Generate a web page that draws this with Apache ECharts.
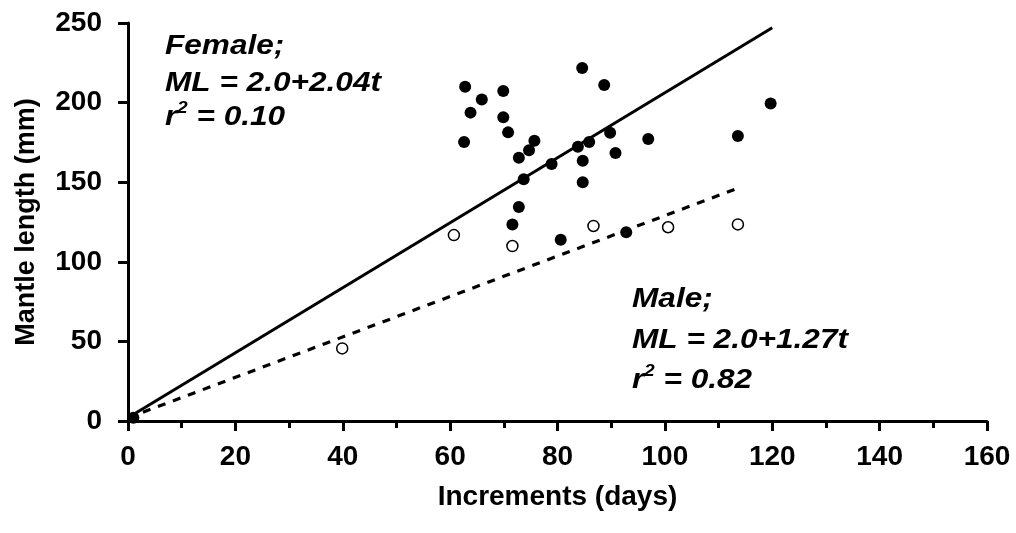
<!DOCTYPE html>
<html>
<head>
<meta charset="utf-8">
<script src="https://cdn.jsdelivr.net/npm/echarts@6/dist/echarts.min.js"></script>
<style>
html,body{margin:0;padding:0;background:#fff;}
#chart{width:1016px;height:533px;}
</style>
</head>
<body>
<div id="chart"></div>
<script>
// Female (filled circles): [increment days, mantle length mm]
const femalePoints = [
  [1, 2],
  [62.8, 210], [69.9, 207.3], [65.9, 202], [63.8, 193.7], [69.9, 190.8],
  [70.8, 181.3], [62.6, 175.2], [75.7, 176], [74.7, 170], [72.8, 165.4],
  [83.8, 172.3], [85.9, 175.2], [89.8, 181.1], [90.8, 168.3], [84.7, 163.5],
  [78.9, 161.4], [73.7, 151.8], [84.7, 149.9], [72.8, 134.4], [71.6, 123.5],
  [80.6, 113.9], [92.8, 118.5], [88.7, 211], [96.9, 177.1], [84.6, 221.7],
  [119.7, 199.5], [113.6, 179]
];
// Male (open circles)
const malePoints = [
  [39.9, 45.6], [60.7, 116.8], [71.6, 109.9], [86.7, 122.5],
  [100.6, 121.7], [113.6, 123.5]
];
// Regression lines (endpoints)
const femaleLine = [[0, 2], [120, 247]];
const maleLine = [[0, 2], [113, 145.5]];

const xTicks = [0, 20, 40, 60, 80, 100, 120, 140, 160];
const yTicks = [0, 50, 100, 150, 200, 250];

const femaleText = ['Female;', 'ML = 2.0+2.04t', '{b|r}{s|2}{b| = 0.10}'];
const maleText = ['Male;', 'ML = 2.0+1.27t', '{b|r}{s|2}{b| = 0.82}'];
const xName = 'Increments (days)';
const yName = 'Mantle length (mm)';

const FONT = '"Liberation Sans", Arial, sans-serif';
const chart = echarts.init(document.getElementById('chart'));

function annot(lines, x, ys) {
  return lines.map((t, i) => ({
    type: 'text',
    x: x, y: ys[i],
    scaleX: 1.17,
    style: {
      text: t,
      fontFamily: FONT, fontStyle: 'italic', fontWeight: 'bold', fontSize: 27,
      fill: '#000',
      verticalAlign: 'middle',
      align: 'left',
      rich: {
        b: { fontFamily: FONT, fontStyle: 'italic', fontWeight: 'bold', fontSize: 27, fill: '#000' },
        s: { fontFamily: FONT, fontStyle: 'italic', fontWeight: 'bold', fontSize: 16, fill: '#000', padding: [0, 0, 18, 0] }
      }
    }
  }));
}

chart.setOption({
  animation: false,
  backgroundColor: '#fff',
  grid: { left: 128, right: 29, top: 23, bottom: 112, containLabel: false },
  xAxis: {
    type: 'value',
    min: xTicks[0], max: xTicks[xTicks.length - 1], interval: 20,
    name: xName, nameLocation: 'middle', nameGap: 62,
    nameTextStyle: { fontFamily: FONT, fontWeight: 'bold', fontSize: 28, color: '#000' },
    axisLine: { show: true, lineStyle: { color: '#000', width: 3 } },
    axisTick: { show: true, length: 10, lineStyle: { color: '#000', width: 3 } },
    minorTick: { show: true, splitNumber: 2, length: 7, lineStyle: { color: '#000', width: 3 } },
    splitLine: { show: false },
    axisLabel: { fontFamily: FONT, fontWeight: 'bold', fontSize: 28, color: '#000', margin: 22 }
  },
  yAxis: {
    type: 'value',
    min: yTicks[0], max: yTicks[yTicks.length - 1], interval: 50,
    name: yName, nameLocation: 'middle', nameGap: 88, nameRotate: 90,
    nameTextStyle: { fontFamily: FONT, fontWeight: 'bold', fontSize: 27, color: '#000' },
    axisLine: { show: true, lineStyle: { color: '#000', width: 3 } },
    axisTick: { show: true, length: 10, lineStyle: { color: '#000', width: 3 } },
    splitLine: { show: false },
    axisLabel: { fontFamily: FONT, fontWeight: 'bold', fontSize: 28, color: '#000', margin: 26 }
  },
  series: [
    {
      type: 'line', data: femaleLine, symbol: 'none', silent: true,
      lineStyle: { color: '#000', width: 3 }
    },
    {
      type: 'line', data: maleLine, symbol: 'none', silent: true,
      lineStyle: { color: '#000', width: 3.2, type: [8, 8] }
    },
    {
      type: 'scatter', data: malePoints, symbol: 'circle', symbolSize: 11,
      itemStyle: { color: '#fff', borderColor: '#000', borderWidth: 1.5, opacity: 1 }
    },
    {
      type: 'scatter', data: femalePoints, symbol: 'circle', symbolSize: 12,
      itemStyle: { color: '#000', opacity: 1 }
    }
  ],
  graphic: annot(femaleText, 165, [47, 84, 118]).concat(annot(maleText, 632, [300, 341, 381]))
});
</script>
</body>
</html>
